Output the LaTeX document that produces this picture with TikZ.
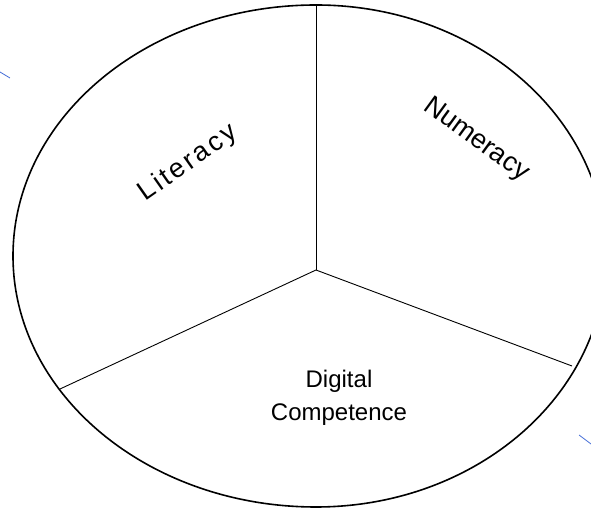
\documentclass[tikz,border=0pt]{standalone}
\usepackage{fontspec}
\setmainfont{Liberation Sans}
\newfontfamily\spacedfont[LetterSpace=10]{Liberation Sans}
\begin{document}
\begin{tikzpicture}[x=1pt, y=1pt,
    part/.style={font=\fontsize{24}{33}\selectfont, align=center},
    slanted part/.style={font=\fontsize{27}{33}\selectfont},
    divider/.style={draw=black, line width=0.9pt},
    rim/.style={draw=black, line width=1.6pt},
    mark line/.style={draw={rgb,255:red,70;green,110;blue,215}, line width=0.8pt}]
        \useasboundingbox (0,0) rectangle (591,510);
        \clip (0,0) rectangle (591,510);

        % Points
        \coordinate (O) at (316, 240);
        \coordinate (top) at (316, 505);
        \coordinate (left) at (60, 121);
        \coordinate (right) at (572, 144);
        \coordinate (b1) at (0, 438);
        \coordinate (b2) at (10, 432);
        \coordinate (b3) at (579, 75);
        \coordinate (b4) at (591, 66);

        % Outline
        \draw[rim] (top) arc[start angle=90, end angle=270, x radius=303, y radius=251]
                         arc[start angle=270, end angle=450, x radius=290, y radius=251];

        % Edges
        \draw[divider] (O) -- (top);
        \draw[divider] (O) -- (left);
        \draw[divider] (O) -- (right);

        % Nodes
        \node (literacy) [slanted part, rotate=35] at (188, 347) {\spacedfont Literacy};
        \node (numeracy) [slanted part, rotate=-36] at (476, 370) {Numeracy};
        \node (digital) [part] at (339, 112) {Digital\\Competence};

        % Marks
        \draw[mark line] (b1) -- (b2);
        \draw[mark line] (b3) -- (b4);
    \end{tikzpicture}
\end{document}
